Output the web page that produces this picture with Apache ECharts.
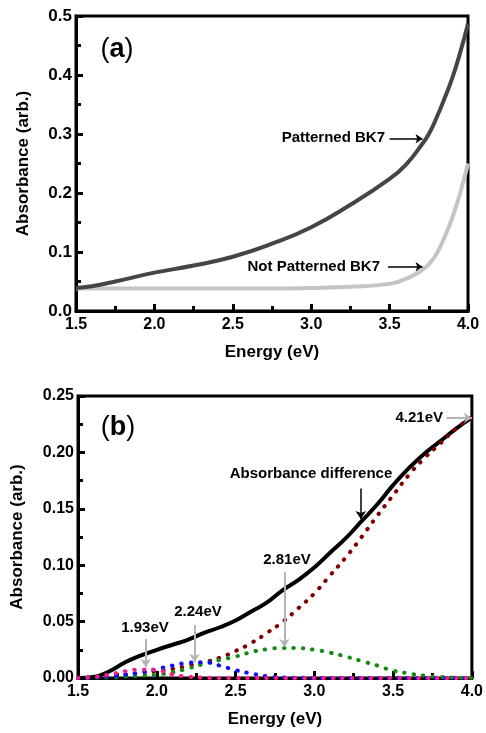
<!DOCTYPE html>
<html lang="en">
<head>
    <meta charset="UTF-8">
    <title>Absorbance</title>
    <script src="https://cdn.jsdelivr.net/npm/echarts@6/dist/echarts.min.js"></script>
    <style>
        html, body { margin: 0; padding: 0; background: #FFFFFF; }
        #main { width: 486px; height: 733px; }
    </style>
</head>
<body>
<div id="main"></div>
<script>
    // (a) patterned vs not patterned
    var energyA = [1.5, 1.6, 1.75, 2.0, 2.25, 2.5, 2.75, 3.0, 3.25, 3.5, 3.6, 3.7, 3.75, 3.8, 3.85, 3.9, 3.95, 4.0];
    var patterned = [0.039, 0.042, 0.050, 0.065, 0.077, 0.092, 0.114, 0.142, 0.180, 0.224, 0.247, 0.280, 0.300, 0.328, 0.360, 0.395, 0.438, 0.487];
    var notPatterned = [0.038, 0.038, 0.038, 0.038, 0.038, 0.038, 0.038, 0.039, 0.041, 0.046, 0.054, 0.068, 0.079, 0.097, 0.125, 0.158, 0.200, 0.250];

    // (b) absorbance difference and fitted components
    var energyB = [1.5, 1.6, 1.7, 1.8, 1.9, 2.0, 2.1, 2.2, 2.3, 2.4, 2.5, 2.6, 2.7, 2.8, 2.9, 3.0, 3.1, 3.2, 3.3, 3.4, 3.5, 3.6, 3.7, 3.8, 3.9, 4.0];
    var difference = [0.000, 0.001, 0.006, 0.014, 0.020, 0.025, 0.0295, 0.034, 0.040, 0.045, 0.051, 0.059, 0.067, 0.078, 0.087, 0.098, 0.111, 0.124, 0.139, 0.154, 0.171, 0.186, 0.199, 0.210, 0.221, 0.231];
    var peak421 = [0.000, 0.0005, 0.002, 0.003, 0.0045, 0.006, 0.008, 0.011, 0.014, 0.018, 0.024, 0.031, 0.040, 0.050, 0.062, 0.075, 0.091, 0.107, 0.125, 0.144, 0.162, 0.180, 0.195, 0.208, 0.221, 0.231];
    var peak281 = [0.000, 0.0003, 0.0007, 0.0013, 0.002, 0.003, 0.005, 0.0085, 0.0125, 0.016, 0.019, 0.023, 0.0255, 0.0265, 0.0265, 0.025, 0.0225, 0.019, 0.015, 0.011, 0.0065, 0.004, 0.002, 0.001, 0.0004, 0.0002];
    var peak224 = [0.000, 0.0005, 0.0015, 0.003, 0.005, 0.008, 0.011, 0.0135, 0.014, 0.011, 0.007, 0.004, 0.0015, 0.0005, 0.0002, 0, 0, 0, 0, 0, 0, 0, 0, 0, 0, 0];
    var peak193 = [0.000, 0.001, 0.003, 0.006, 0.0075, 0.007, 0.003, 0.0012, 0.0004, 0, 0, 0, 0, 0, 0, 0, 0, 0, 0, 0, 0, 0, 0, 0, 0, 0];

    function pairs(xs, ys) {
        return xs.map(function (x, i) { return [x, ys[i]]; });
    }

    var FONT = 'Liberation Sans, Arial, sans-serif';

    function xAxis(grid) {
        return {
            type: 'value', gridIndex: grid, min: 1.5, max: 4.0, interval: 0.5,
            axisLine: {show: true, onZero: false, lineStyle: {color: '#000', width: 3}},
            axisTick: {show: true, inside: true, length: 7, lineStyle: {color: '#000', width: 3}},
            minorTick: {show: true, splitNumber: 2, length: 5, lineStyle: {color: '#000', width: 3}},
            splitLine: {show: false},
            axisLabel: {margin: 6, color: '#000', fontFamily: FONT, fontWeight: 'bold', fontSize: 16,
                formatter: function (v) { return v.toFixed(1); }},
            name: 'Energy (eV)', nameLocation: 'middle', nameGap: 33,
            nameTextStyle: {color: '#000', fontFamily: FONT, fontWeight: 'bold', fontSize: 17}
        };
    }

    function yAxis(grid, max, step, digits, fs, gap) {
        return {
            type: 'value', gridIndex: grid, min: 0, max: max, interval: step,
            axisLine: {show: true, onZero: false, lineStyle: {color: '#000', width: 3}},
            axisTick: {show: true, inside: true, length: 7, lineStyle: {color: '#000', width: 3}},
            minorTick: {show: true, splitNumber: 2, length: 5, lineStyle: {color: '#000', width: 3}},
            splitLine: {show: false},
            axisLabel: {margin: 4, color: '#000', fontFamily: FONT, fontWeight: 'bold', fontSize: fs,
                formatter: function (v) { return v.toFixed(digits); }},
            name: 'Absorbance (arb.)', nameLocation: 'middle', nameGap: gap,
            nameTextStyle: {color: '#000', fontFamily: FONT, fontWeight: 'bold', fontSize: 17}
        };
    }

    function dotted(name, ys, color) {
        return {
            name: name, type: 'line', xAxisIndex: 1, yAxisIndex: 1, data: pairs(energyB, ys),
            smooth: true, showSymbol: false, z: 3,
            lineStyle: {color: color, width: 4, type: [0.5, 9], cap: 'round'}
        };
    }

    function arrow(x1, y1, x2, y2, color) {
        return [{coord: [x1, y1], lineStyle: {color: color, width: color === '#000' ? 1.5 : 2, type: 'solid'},
                 itemStyle: {color: color}},
                {coord: [x2, y2], itemStyle: {color: color}}];
    }

    function txt(text, x, y, align, size) {
        return {type: 'text', x: x, y: y, z: 10,
            style: {text: text, fill: '#000', fontFamily: FONT, fontWeight: 'bold', fontSize: size,
                align: align, verticalAlign: 'middle'}};
    }

    function panel(letter, x, y) {
        return {type: 'text', x: x, y: y, z: 10,
            style: {text: '{p|(}{l|' + letter + '}{p|)}', align: 'center', verticalAlign: 'middle',
                rich: {p: {fontFamily: FONT, fontSize: 27, fill: '#000'},
                       l: {fontFamily: FONT, fontSize: 27, fontWeight: 'bold', fill: '#000'}}}};
    }

    var chart = echarts.init(document.getElementById('main'));
    chart.setOption({
        animation: false,
        // grid border gives the top and right sides of each frame
        grid: [
            {left: 76, top: 16, width: 392, height: 295, show: true, borderColor: '#000', borderWidth: 3, backgroundColor: 'transparent'},
            {left: 78, top: 396, width: 397, height: 282, show: true, borderColor: '#000', borderWidth: 3, backgroundColor: 'transparent'}
        ],
        xAxis: [xAxis(0), xAxis(1)],
        yAxis: [yAxis(0, 0.5, 0.1, 1, 17, 44), yAxis(1, 0.25, 0.05, 2, 16, 52)],
        series: [
            {
                name: 'Not Patterned BK7', type: 'line', xAxisIndex: 0, yAxisIndex: 0,
                data: pairs(energyA, notPatterned), smooth: true, showSymbol: false,
                lineStyle: {color: '#c4c4c4', width: 4}
            },
            {
                name: 'Patterned BK7', type: 'line', xAxisIndex: 0, yAxisIndex: 0,
                data: pairs(energyA, patterned), smooth: true, showSymbol: false,
                lineStyle: {color: '#454545', width: 4},
                markLine: {
                    silent: true, symbol: ['none', 'arrow'], symbolSize: 7, label: {show: false},
                    data: [arrow(3.50, 0.292, 3.71, 0.292, '#000'), arrow(3.49, 0.075, 3.71, 0.075, '#000')]
                }
            },
            {
                name: 'Absorbance difference', type: 'line', xAxisIndex: 1, yAxisIndex: 1,
                data: pairs(energyB, difference), smooth: true, showSymbol: false, z: 2,
                lineStyle: {color: '#000', width: 4},
                markLine: {
                    silent: true, symbol: ['none', 'arrow'], symbolSize: 8, label: {show: false},
                    data: [
                        arrow(3.295, 0.168, 3.295, 0.141, '#000'),
                        arrow(3.84, 0.2305, 4.0, 0.2305, '#b4b4b4'),
                        arrow(2.81, 0.094, 2.81, 0.0275, '#b4b4b4'),
                        arrow(2.24, 0.047, 2.24, 0.0142, '#b4b4b4'),
                        arrow(1.93, 0.0346, 1.93, 0.0097, '#b4b4b4')
                    ]
                }
            },
            dotted('4.21eV', peak421, '#800000'),
            dotted('2.81eV', peak281, '#138a13'),
            dotted('2.24eV', peak224, '#1010ff'),
            dotted('1.93eV', peak193, '#ff1a8c')
        ],
        graphic: [
            panel('a', 117, 50),
            panel('b', 118, 428),
            txt('Patterned BK7', 385, 138, 'right', 15),
            txt('Not Patterned BK7', 380, 267, 'right', 15),
            txt('4.21eV', 443, 418, 'right', 15),
            txt('Absorbance difference', 311, 474, 'center', 15),
            txt('2.81eV', 287, 560, 'center', 15),
            txt('2.24eV', 198, 612, 'center', 15),
            txt('1.93eV', 145, 628, 'center', 15)
        ]
    });
</script>
</body>
</html>
